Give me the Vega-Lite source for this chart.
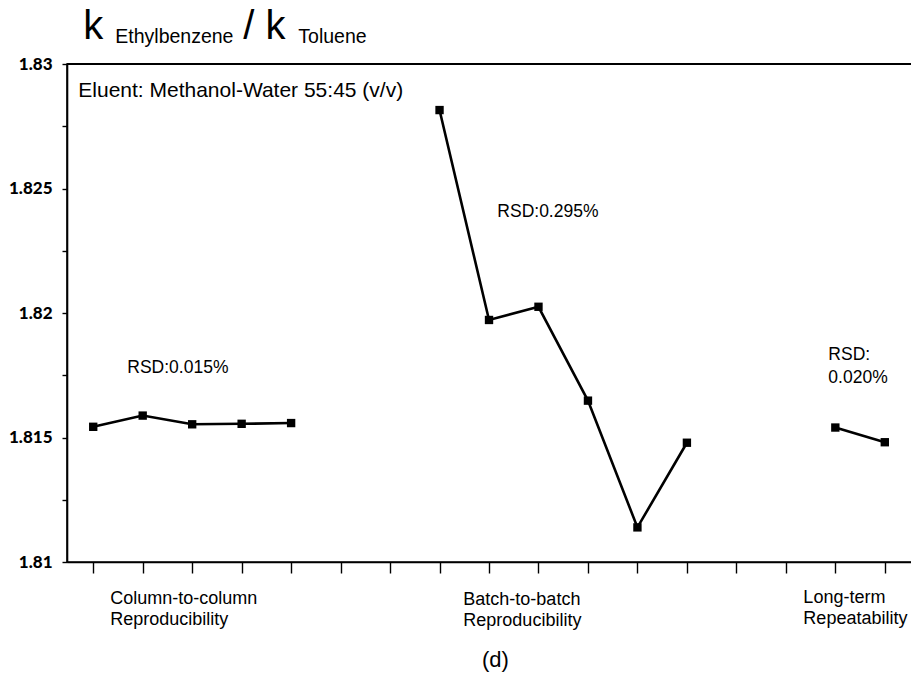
{
  "$schema": "https://vega.github.io/schema/vega-lite/v6.json",
  "width": 846,
  "height": 498,
  "autosize": {"type": "none"},
  "padding": {"left": 67, "top": 64, "right": 0, "bottom": 113},
  "background": "white",
  "config": {"view": {"stroke": "black", "strokeWidth": 1.6}},
  "data": {"values": [
    {"grp": "Column-to-column", "pos": 0, "ratio": 1.81543},
    {"grp": "Column-to-column", "pos": 1, "ratio": 1.81588},
    {"grp": "Column-to-column", "pos": 2, "ratio": 1.81553},
    {"grp": "Column-to-column", "pos": 3, "ratio": 1.81555},
    {"grp": "Column-to-column", "pos": 4, "ratio": 1.81558},
    {"grp": "Batch-to-batch", "pos": 7, "ratio": 1.82815},
    {"grp": "Batch-to-batch", "pos": 8, "ratio": 1.81972},
    {"grp": "Batch-to-batch", "pos": 9, "ratio": 1.82025},
    {"grp": "Batch-to-batch", "pos": 10, "ratio": 1.81648},
    {"grp": "Batch-to-batch", "pos": 11, "ratio": 1.81139},
    {"grp": "Batch-to-batch", "pos": 12, "ratio": 1.81479},
    {"grp": "Long-term", "pos": 15, "ratio": 1.8154},
    {"grp": "Long-term", "pos": 16, "ratio": 1.81481}
  ]},
  "layer": [
    {
      "mark": {"type": "line", "color": "black", "strokeWidth": 2.6},
      "encoding": {
        "x": {
          "field": "pos", "type": "quantitative",
          "scale": {"domain": [-0.53, 16.57], "nice": false, "zero": false},
          "axis": {
            "orient": "bottom", "values": [0,1,2,3,4,5,6,7,8,9,10,11,12,13,14,15,16],
            "labels": false, "title": null, "grid": false,
            "tickSize": 11, "tickWidth": 1.4, "tickColor": "black",
            "domainColor": "black", "domainWidth": 1.6
          }
        },
        "y": {
          "field": "ratio", "type": "quantitative",
          "scale": {"domain": [1.81, 1.83], "nice": false, "zero": false},
          "axis": {
            "orient": "left",
            "values": [1.81, 1.8125, 1.815, 1.8175, 1.82, 1.8225, 1.825, 1.8275, 1.83],
            "labelExpr": "abs(round(datum.value*400)) % 2 == 0 ? format(datum.value, '.3~f') : ''",
            "labelFont": "Lato", "labelFontWeight": 900, "labelFontSize": 17,
            "labelColor": "black", "labelPadding": 10,
            "title": null, "grid": false,
            "tickSize": 5, "tickWidth": 1.4, "tickColor": "black",
            "domainColor": "black", "domainWidth": 1.6,
            "encode": {
              "ticks": {
                "update": {
                  "x": {"signal": "(abs(round(datum.value*400)) % 2 == 0 && datum.value > 1.811 && datum.value < 1.829) ? 12 : 0"}
                }
              }
            }
          }
        },
        "detail": {"field": "grp"}
      }
    },
    {
      "mark": {"type": "point", "shape": "square", "filled": true, "color": "black", "opacity": 1, "size": 70},
      "encoding": {
        "x": {"field": "pos", "type": "quantitative"},
        "y": {"field": "ratio", "type": "quantitative"}
      }
    },
    {
      "mark": {"type": "rule", "color": "black", "strokeWidth": 1.6},
      "encoding": {"y": {"datum": 1.83, "type": "quantitative"}}
    },
    {
      "data": {"values": [
        {"t": "k", "pos": -0.2, "ratio": 1.831004},
        {"t": "/ k", "pos": 3.034, "ratio": 1.831004}
      ]},
      "mark": {"type": "text", "align": "left", "baseline": "alphabetic", "font": "Liberation Sans", "fontSize": 40, "color": "black"},
      "encoding": {
        "x": {"field": "pos", "type": "quantitative"},
        "y": {"field": "ratio", "type": "quantitative"},
        "text": {"field": "t"}
      }
    },
    {
      "data": {"values": [
        {"t": "Ethylbenzene", "pos": 0.446, "ratio": 1.830843},
        {"t": "Toluene", "pos": 4.146, "ratio": 1.830843}
      ]},
      "mark": {"type": "text", "align": "left", "baseline": "alphabetic", "font": "Liberation Sans", "fontSize": 19.5, "color": "black"},
      "encoding": {
        "x": {"field": "pos", "type": "quantitative"},
        "y": {"field": "ratio", "type": "quantitative"},
        "text": {"field": "t"}
      }
    },
    {
      "data": {"values": [
        {"t": "Eluent: Methanol-Water 55:45 (v/v)", "pos": -0.302, "ratio": 1.828675}
      ]},
      "mark": {"type": "text", "align": "left", "baseline": "alphabetic", "font": "Liberation Sans", "fontSize": 21, "color": "black"},
      "encoding": {
        "x": {"field": "pos", "type": "quantitative"},
        "y": {"field": "ratio", "type": "quantitative"},
        "text": {"field": "t"}
      }
    },
    {
      "data": {"values": [
        {"t": "RSD:0.015%", "pos": 0.689, "ratio": 1.81759},
        {"t": "RSD:0.295%", "pos": 8.168, "ratio": 1.823867},
        {"t": "RSD:\n0.020%", "pos": 14.859, "ratio": 1.818112}
      ]},
      "mark": {"type": "text", "align": "left", "baseline": "alphabetic", "font": "Liberation Sans", "fontSize": 17.5, "lineBreak": "\n", "lineHeight": 23, "color": "black"},
      "encoding": {
        "x": {"field": "pos", "type": "quantitative"},
        "y": {"field": "ratio", "type": "quantitative"},
        "text": {"field": "t"}
      }
    },
    {
      "data": {"values": [
        {"t": "Column-to-column\nReproducibility", "pos": 0.345, "ratio": 1.808313},
        {"t": "Batch-to-batch\nReproducibility", "pos": 7.481, "ratio": 1.808273},
        {"t": "Long-term\nRepeatability", "pos": 14.354, "ratio": 1.808353}
      ]},
      "mark": {"type": "text", "align": "left", "baseline": "alphabetic", "font": "Liberation Sans", "fontSize": 18, "lineBreak": "\n", "lineHeight": 21, "color": "black"},
      "encoding": {
        "x": {"field": "pos", "type": "quantitative"},
        "y": {"field": "ratio", "type": "quantitative"},
        "text": {"field": "t"}
      }
    },
    {
      "data": {"values": [
        {"t": "(d)", "pos": 8.128, "ratio": 1.805783}
      ]},
      "mark": {"type": "text", "align": "center", "baseline": "alphabetic", "font": "Liberation Sans", "fontSize": 22, "color": "black"},
      "encoding": {
        "x": {"field": "pos", "type": "quantitative"},
        "y": {"field": "ratio", "type": "quantitative"},
        "text": {"field": "t"}
      }
    }
  ]
}
